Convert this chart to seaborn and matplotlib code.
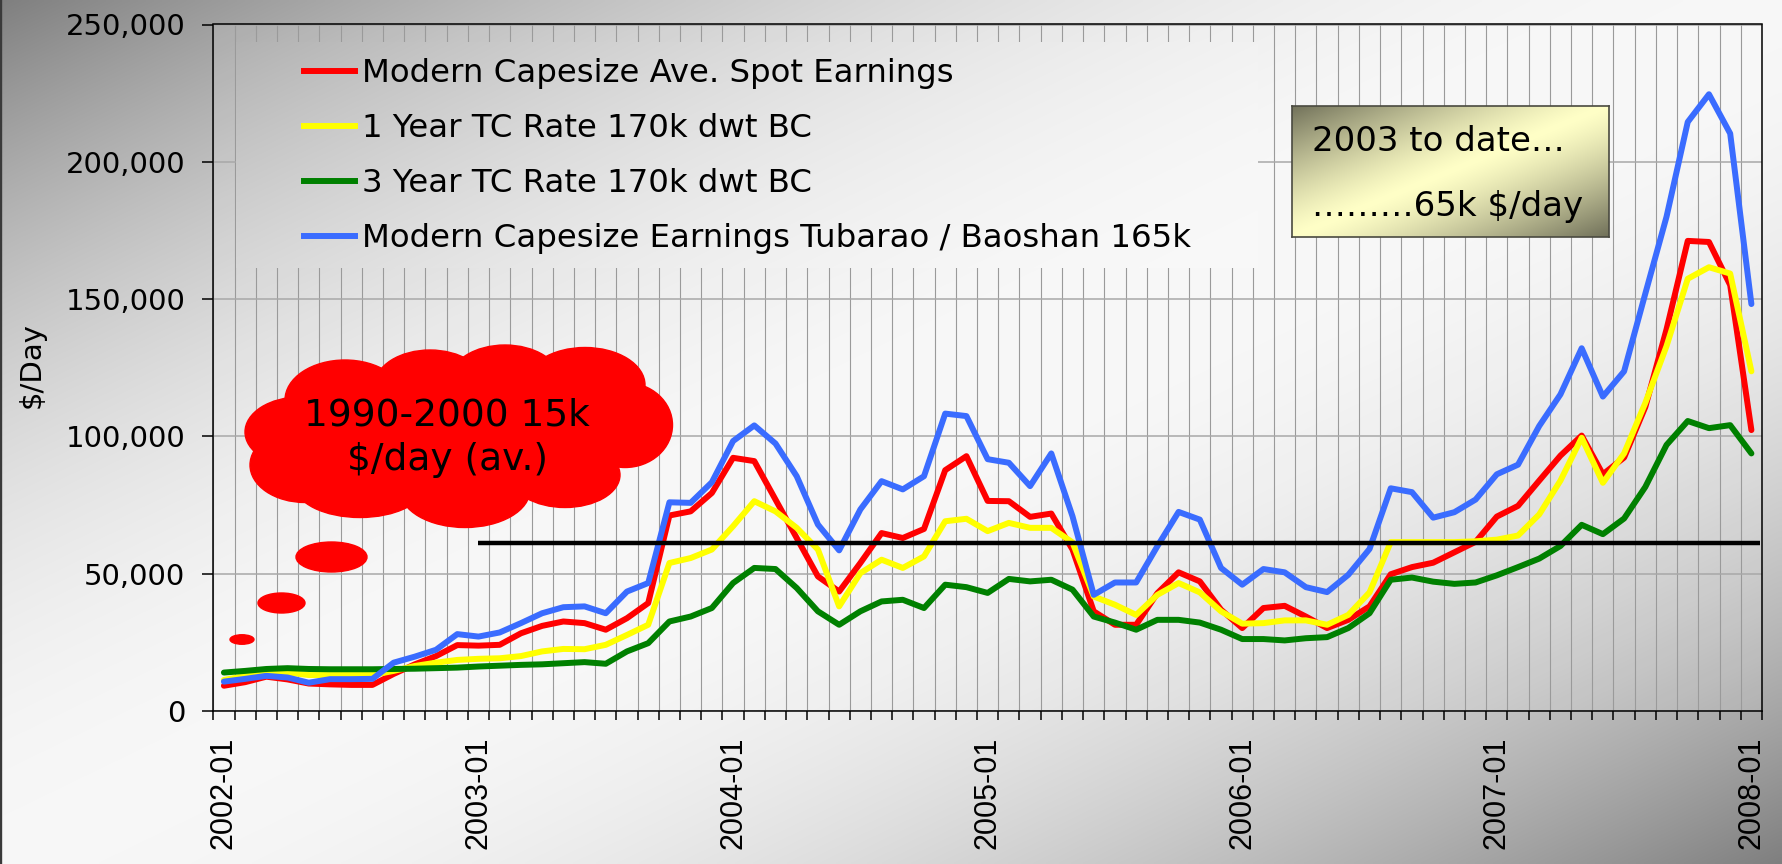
"""Capesize spot earnings vs time-charter rates, 2002-2008."""

import matplotlib.pyplot as plt
import matplotlib.patches as mpatches
import numpy as np
import pandas as pd
import seaborn as sns
from matplotlib.lines import Line2D
from matplotlib.ticker import FuncFormatter

W, H = 1782, 864

months = pd.date_range("2002-01-01", "2008-01-01", freq="MS").strftime("%Y-%m").tolist()

# $/day, thousands
spot_earnings = [
    9.2, 10.5, 12.5, 11.5, 10.0, 9.7, 9.5, 9.5, 13.5, 17.0, 20.0, 24.0,
    23.8, 24.1, 28.3, 31.0, 32.6, 32.0, 29.6, 33.8, 39.3, 71.2, 72.7, 79.4,
    92.2, 91.0, 77.0, 63.0, 49.0, 43.5, 53.9, 64.8, 63.0, 66.3, 87.7, 92.8,
    76.5, 76.4, 70.7, 71.9, 58.8, 36.3, 31.4, 31.4, 42.9, 50.5, 47.2, 36.9,
    30.2, 37.5, 38.3, 34.4, 30.2, 33.2, 38.1, 49.8, 52.4, 54.0, 57.8, 61.6,
    70.8, 74.7, 83.9, 93.0, 100.3, 86.2, 92.3, 110.7, 139.0, 171.2, 170.8, 155.1,
    102.3,
]
tc_1yr = [
    11.3, 12.8, 13.7, 14.0, 13.1, 13.1, 13.1, 13.1, 14.6, 16.4, 17.6, 18.6,
    19.0, 19.2, 20.0, 21.7, 22.6, 22.5, 24.1, 27.7, 31.4, 53.9, 55.7, 58.8,
    67.3, 76.4, 72.7, 66.7, 58.8, 38.1, 50.2, 55.1, 52.1, 56.3, 69.1, 70.0,
    65.5, 68.5, 66.7, 66.7, 61.4, 41.7, 38.7, 35.0, 42.3, 46.6, 43.2, 36.3,
    31.8, 32.0, 33.0, 33.0, 31.4, 35.0, 43.2, 61.5, 61.5, 61.5, 61.5, 61.8,
    62.4, 63.9, 71.6, 83.9, 99.5, 83.1, 93.8, 112.2, 132.9, 157.4, 161.6, 159.3,
    123.7,
]
tc_3yr = [
    14.0, 14.6, 15.3, 15.6, 15.3, 15.2, 15.2, 15.2, 15.3, 15.4, 15.6, 15.8,
    16.2, 16.5, 16.8, 17.0, 17.4, 17.8, 17.2, 21.7, 24.7, 32.6, 34.4, 37.5,
    46.6, 52.1, 51.7, 44.8, 36.3, 31.4, 36.3, 39.9, 40.5, 37.5, 46.0, 45.1,
    43.0, 48.1, 47.2, 47.8, 44.2, 34.4, 32.2, 29.6, 33.2, 33.2, 32.2, 29.6,
    26.2, 26.2, 25.7, 26.5, 26.9, 30.2, 35.6, 47.8, 48.6, 47.1, 46.3, 46.8,
    49.4, 52.4, 55.5, 60.1, 67.8, 64.4, 70.1, 81.6, 96.9, 105.6, 103.0, 104.1,
    93.8,
]
tubarao_baoshan = [
    10.7, 11.7, 12.8, 12.2, 10.3, 11.6, 11.6, 11.7, 17.6, 19.8, 22.3, 28.0,
    27.1, 28.6, 32.0, 35.6, 37.8, 38.1, 35.6, 43.5, 46.6, 76.0, 75.8, 83.3,
    98.3, 104.0, 97.4, 85.5, 67.9, 58.5, 73.4, 83.7, 80.7, 85.5, 108.3, 107.4,
    91.7, 90.4, 81.9, 93.8, 70.9, 42.3, 46.8, 46.8, 60.0, 72.5, 69.7, 52.1,
    46.0, 51.7, 50.5, 45.1, 43.3, 49.6, 59.0, 81.1, 79.7, 70.4, 72.4, 77.0,
    86.2, 89.7, 103.8, 115.3, 132.1, 114.5, 123.7, 152.0, 180.0, 214.5, 224.6, 210.3,
    148.2,
]

series_names = [
    "Modern Capesize Ave. Spot Earnings",
    "1 Year TC Rate 170k dwt BC",
    "3 Year TC Rate 170k dwt BC",
    "Modern Capesize Earnings Tubarao / Baoshan 165k",
]
series_colors = ["#ff0000", "#ffff00", "#008000", "#3a6cff"]
year_labels = ["2002-01", "2003-01", "2004-01", "2005-01", "2006-01", "2007-01", "2008-01"]

avg_level = 61000
avg_start = "2003-01"
cloud_text = ["1990-2000 15k", "$/day (av.)"]
box_text = ["2003 to date\u2026", "\u2026\u2026\u202665k $/day"]

PLOT_LIGHTEN = 0.12


def fx(px):
    return px / W


def fy(py):
    return 1 - py / H


def diag_shade(x0, y0, x1, y1, n=300, lighten=0.0):
    # slide background: dark at top-left and bottom-right corners, light across the middle
    xs = np.linspace(x0, x1, n) / W
    ys = np.linspace(y0, y1, n) / H
    u, t = np.meshgrid(xs, ys)
    d = (u + t) / 2
    v = 0.5 + 0.47 * (1 - np.abs(2 * d - 1) ** 2.0)
    v = v + (1 - v) * lighten
    return np.dstack([v, v, v])


def box_shade(n=200):
    xs = np.linspace(0, 1, n)
    u, t = np.meshgrid(xs, xs)
    k = 1 - np.abs(u + t - 1) ** 1.3
    dark = np.array([0.44, 0.44, 0.35])
    light = np.array([1.0, 1.0, 0.78])
    return dark + (light - dark) * k[..., None]


df = pd.DataFrame({
    "month": list(range(len(months))) * 4,
    "value": np.concatenate([spot_earnings, tc_1yr, tc_3yr, tubarao_baoshan]) * 1000,
    "series": np.repeat(series_names, len(months)),
})

plt.rcParams["font.family"] = ["DejaVu Sans"]
fig = plt.figure(figsize=(W / 100, H / 100), dpi=100)

bg_ax = fig.add_axes([0, 0, 1, 1], zorder=0)
bg_ax.imshow(diag_shade(0, 0, W, H), extent=[0, 1, 0, 1], aspect="auto", interpolation="bilinear")
bg_ax.axis("off")

ax = fig.add_axes([fx(213.3), fy(711), fx(1762 - 213.3), (711 - 24.5) / H], zorder=1)
ax.set_facecolor((1, 1, 1, PLOT_LIGHTEN))

sns.lineplot(
    data=df, x="month", y="value", hue="series", hue_order=series_names,
    palette=series_colors, linewidth=4.3, legend=False, sort=False, ax=ax,
)
for line in ax.get_lines():
    line.set_solid_joinstyle("round")
    line.set_solid_capstyle("round")

ax.hlines(avg_level, months.index(avg_start), len(months) - 0.6, color="black", lw=3.2, zorder=4)

ax.set_xlim(-0.5, len(months) - 0.5)
ax.set_ylim(0, 250000)
ax.set_yticks(np.arange(0, 250001, 50000))
ax.yaxis.set_major_formatter(FuncFormatter(lambda v, p: f"{v:,.0f}"))
ax.set_xticks([months.index(m) for m in year_labels])
ax.set_xticklabels(year_labels, rotation=90, fontfamily="Liberation Sans", fontsize=22)
ax.set_xticks(np.arange(-0.5, len(months)), minor=True)
ax.set_xlabel("")
ax.set_ylabel("")

ax.tick_params(axis="x", which="major", length=0, pad=18.5)
ax.tick_params(axis="x", which="minor", length=6.2, width=1.1, color="black")
ax.tick_params(axis="y", length=7.6, width=1.1, pad=12.5, labelsize=21)
ax.grid(which="minor", axis="x", color="#9a9a9a", lw=0.8)
ax.grid(which="major", axis="y", color="#a8a8a8", lw=1.1)
ax.grid(which="major", axis="x", visible=False)
for side in ["left", "bottom", "top", "right"]:
    ax.spines[side].set_color("black")
    ax.spines[side].set_linewidth(1.1)

# legend sits on a patch of plain background that hides the gridlines
cover_ax = fig.add_axes([fx(236), fy(268), fx(1257 - 236), (268 - 42) / H], zorder=2)
cover_ax.imshow(diag_shade(236, 42, 1257, 268, lighten=PLOT_LIGHTEN), extent=[0, 1, 0, 1],
                aspect="auto", interpolation="bilinear")
cover_ax.axis("off")

handles = [Line2D([], [], color=c, lw=4.3) for c in series_colors]
leg = fig.legend(
    handles, series_names, loc="upper left", bbox_to_anchor=(fx(304), fy(58.4)),
    frameon=False, fontsize=23.3, handlelength=1.58, handletextpad=0.21,
    labelspacing=0.74, borderpad=0, borderaxespad=0,
)
leg.set_zorder(8)

# "2003 to date" note
box_ax = fig.add_axes([fx(1292), fy(237), fx(1609 - 1292), (237 - 105.5) / H], zorder=3)
box_ax.imshow(box_shade(), extent=[0, 1, 0, 1], aspect="auto", interpolation="bilinear")
box_ax.set_xticks([])
box_ax.set_yticks([])
for sp in box_ax.spines.values():
    sp.set_color("#4a4a40")
    sp.set_linewidth(1.2)
fig.text(fx(1312), fy(151), box_text[0], fontsize=24.5, va="baseline", zorder=9)
fig.text(fx(1312), fy(216), box_text[1], fontsize=24.5, va="baseline", zorder=9)

# thought cloud
cloud_parts = [
    (300, 432, 110, 70), (305, 465, 110, 75), (345, 400, 120, 80), (430, 385, 110, 70),
    (505, 380, 110, 70), (585, 385, 120, 75), (625, 425, 95, 85), (360, 485, 130, 65),
    (465, 490, 130, 75), (565, 475, 110, 65), (450, 435, 300, 130),
    (331.5, 557, 71, 30), (281.5, 603, 47, 20), (242, 639.5, 24, 9.5),
]
for cx, cy, w, h in cloud_parts:
    fig.add_artist(mpatches.Ellipse((fx(cx), fy(cy)), w / W, h / H, transform=fig.transFigure,
                                    color="#ff0000", zorder=6))
fig.text(fx(447), fy(425), cloud_text[0], fontsize=27, ha="center", va="baseline", zorder=9)
fig.text(fx(447), fy(470), cloud_text[1], fontsize=27, ha="center", va="baseline", zorder=9)

fig.text(fx(32), fy(365), "$/Day", rotation=90, fontsize=21, ha="center", va="center")
fig.add_artist(Line2D([fx(1.2), fx(1.2)], [0, 1], transform=fig.transFigure, color="#3a3a3a", lw=1.7))

fig.savefig("out.png", dpi=100)
